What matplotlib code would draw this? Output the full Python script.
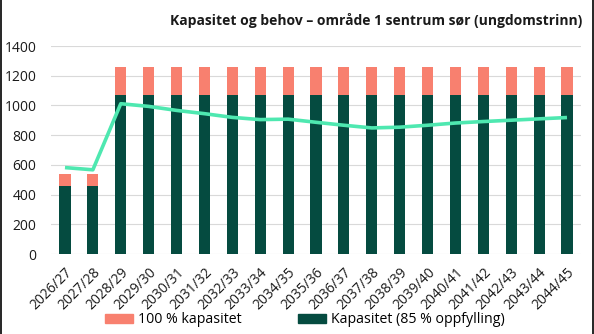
import matplotlib
matplotlib.use("Agg")
import matplotlib.pyplot as plt
from matplotlib.lines import Line2D
from matplotlib.patches import Patch
import numpy as np

plt.rcParams['font.family'] = ['Open Sans', 'DejaVu Sans']

years = ["2026/27", "2027/28", "2028/29", "2029/30", "2030/31", "2031/32", "2032/33",
         "2033/34", "2034/35", "2035/36", "2036/37", "2037/38", "2038/39", "2039/40",
         "2040/41", "2041/42", "2042/43", "2043/44", "2044/45"]
kap85 = [459, 459] + [1071] * 17
kap100 = [540, 540] + [1260] * 17
behov = [582, 567, 1012, 994, 967, 945, 920, 905, 908, 887, 867, 849, 854, 867,
         882, 892, 901, 910, 919]

C_PINK = "#f8806f"
C_GREEN = "#054b40"
C_LINE = "#4ee8b0"

fig = plt.figure(figsize=(5.94, 3.34), dpi=100)
ax = fig.add_axes([0.0859, 0.2395, 0.978 - 0.0859, 0.862 - 0.2395])

x = np.arange(len(years))
rest = [a - b for a, b in zip(kap100, kap85)]
ax.bar(x, kap85, width=0.4, color=C_GREEN, zorder=2)
ax.bar(x, rest, width=0.4, bottom=kap85, color=C_PINK, zorder=2)
ax.plot(x, behov, color=C_LINE, lw=2.6, zorder=3, solid_capstyle="butt")

ax.set_xlim(-0.5, len(years) - 0.5)
ax.set_ylim(0, 1400)
ax.set_yticks(range(0, 1401, 200))
ax.yaxis.grid(True, color="#d9d9d9", lw=0.8, zorder=0)
ax.set_axisbelow(True)
for s in ax.spines.values():
    s.set_visible(False)
ax.tick_params(axis="both", length=0, labelsize=10, colors="#1a1a1a")
ax.tick_params(axis="y", pad=10.5)
ax.tick_params(axis="x", pad=8)
ax.set_xticks(x)
ax.set_xticklabels(years, rotation=45, ha="right", rotation_mode="anchor")

fig.text(0.981, 0.94, "Kapasitet og behov – område 1 sentrum sør (ungdomstrinn)",
         ha="right", va="center", fontsize=10, fontweight="bold", color="#1a1a1a")

handles = [Patch(color=C_PINK), Patch(color=C_GREEN)]
labels = ["100 % kapasitet", "Kapasitet (85 % oppfylling)"]
fig.legend(handles, labels, loc="center", bbox_to_anchor=(0.513, 0.042), ncol=2,
           frameon=False, fontsize=10.2, handlelength=2.0, handleheight=0.55,
           handletextpad=0.3, columnspacing=4.0, borderaxespad=0)

fig.add_artist(Line2D([0.001, 0.001], [0, 1], transform=fig.transFigure, color="black", lw=1.2))
fig.add_artist(Line2D([0.999, 0.999], [0, 1], transform=fig.transFigure, color="black", lw=1.2))

fig.savefig("out.png", dpi=100)
